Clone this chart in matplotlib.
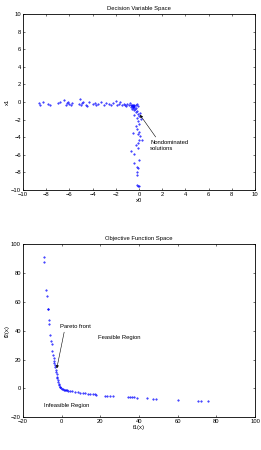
import matplotlib
matplotlib.use('Agg')
import matplotlib.pyplot as plt

plt.rcParams['font.family'] = ['Liberation Sans', 'DejaVu Sans']

# decision variable space points
x0 = [-8.6, -8.5, -8.3, -7.8, -7.7, -7.0, -6.8, -6.5, -6.3, -6.2, -6.1, -6.0, -5.9, -5.8,
      -5.2, -5.1, -5.0, -4.9, -4.8, -4.6, -4.5, -4.3, -4.0, -3.8, -3.7, -3.5, -3.3, -3.0,
      -2.8, -2.6, -2.4, -2.2, -2.0, -1.9, -1.7, -1.6, -1.5, -1.3, -1.2, -1.1, -1.0, -0.9,
      -0.8, -0.7, -0.7, -0.6, -0.6, -0.5, -0.5, -0.4, -0.4, -0.3, -0.3, -0.2, -0.2, -0.1,
      -0.3, -0.1, 0.0, -0.2, 0.1, -0.4, 0.2, -0.1, 0.0, -0.3, -0.2, 0.0, -0.1, 0.1, -0.5,
      0.0, -0.1, 0.3, -0.3, -0.1, -0.7, -0.4, 0.0, -0.4, -0.2, -0.1, -0.2, -0.2, -0.2, -0.1, 0.0,
      -0.6, -0.5, -0.4, -0.45, -0.55, -0.35]
x1 = [-0.1, -0.3, 0.0, -0.2, -0.4, -0.1, 0.0, 0.2, -0.3, -0.1, 0.0, -0.2, -0.3, -0.1,
      -0.2, 0.3, -0.4, -0.1, 0.0, -0.3, -0.5, 0.0, -0.2, -0.1, -0.3, -0.2, 0.0, -0.3,
      -0.1, -0.2, -0.4, -0.1, 0.1, -0.3, -0.2, 0.0, -0.4, -0.2, -0.3, -0.5, -0.2, -0.4,
      -0.1, -0.3, -0.6, -0.4, -0.8, -0.5, -0.3, -0.6, -0.9, -0.4, -0.7, -0.2, -1.0, -0.5,
      -1.2, -1.4, -1.6, -1.8, -1.3, -1.5, -1.9, -2.2, -2.5, -2.7, -3.1, -3.4, -3.6, -3.9, -3.5,
      -4.3, -4.7, -4.3, -4.9, -5.2, -5.6, -5.9, -6.6, -6.9, -7.4, -7.5, -8.0, -8.3, -9.4, -9.5, -9.5,
      -0.5, -0.7, -0.5, -0.35, -0.6, -0.8]

# objective function space points
f1 = [-9.2, -9.2, -8.0, -7.6, -7.3, -7.2, -6.6, -6.4, -5.9, -5.6, -5.05, -4.9, -4.5, -4.2,
      -3.9, -3.7, -3.5, -3.3, -3.0, -2.8, -2.6, -2.5, -2.3, -2.1, -1.9, -1.6, -1.4, -1.1,
      -0.8, -0.4, 0.0, 0.5, 1.0, 1.6, 2.2, 2.7, 3.5, 4.4, 5.5, 7.0, 8.3, 9.5, 11.0, 12.1,
      13.5, 14.7, 16.0, 17.3, 18.0, 22.4, 23.5, 25.0, 26.7, 34.5, 35.5, 36.2, 37.5, 38.8,
      43.9, 47.4, 49.0, 60.2, 70.5, 72.3, 75.7]
f2 = [91.2, 87.8, 68.6, 64.0, 55.4, 54.8, 47.3, 44.6, 37.0, 32.8, 30.5, 26.0, 23.0, 20.8,
      19.2, 17.8, 16.0, 14.5, 13.0, 11.5, 10.0, 8.0, 7.0, 5.8, 4.3, 2.8, 2.0, 1.2,
      0.6, 0.0, -0.4, -0.7, -0.9, -1.1, -1.3, -1.4, -1.5, -1.6, -1.9, -2.3, -2.6, -3.0, -3.2, -3.5,
      -3.7, -3.9, -4.1, -4.2, -4.3, -5.1, -5.2, -5.3, -5.5, -6.0, -6.1, -6.2, -6.3, -6.5,
      -6.9, -7.2, -7.2, -7.9, -8.5, -8.5, -8.8]

fs = 4.2

fig = plt.figure(figsize=(2.61, 4.5), dpi=100)
ax1 = fig.add_axes([0.088, 0.578, 0.889, 0.391])
ax2 = fig.add_axes([0.088, 0.073, 0.889, 0.384])

for ax in (ax1, ax2):
    ax.tick_params(direction='in', length=1.5, width=0.4, labelsize=fs, pad=1.5,
                   top=True, right=True)
    for s in ax.spines.values():
        s.set_linewidth(0.6)

ax1.plot(x0, x1, '.', color='blue', markersize=0.9)
ax1.set_xlim(-10, 10)
ax1.set_ylim(-10, 10)
ax1.set_xticks(range(-10, 11, 2))
ax1.set_yticks(range(-10, 11, 2))
ax1.set_title('Decision Variable Space', fontsize=fs, pad=3)
ax1.set_xlabel('x0', fontsize=fs, labelpad=0.5)
ax1.set_ylabel('x1', fontsize=fs, labelpad=0.5)
ax1.annotate('Nondominated\nsolutions', xy=(0.09, -1.47), xytext=(0.95, -4.3),
             fontsize=fs, va='top', ha='left',
             arrowprops=dict(arrowstyle='-|>', color='black', lw=0.4,
                             mutation_scale=4, shrinkA=0, shrinkB=0,
                             relpos=(0.2, 1.0)))

ax2.plot(f1, f2, '.', color='blue', markersize=0.9)
ax2.set_xlim(-20, 100)
ax2.set_ylim(-20, 100)
ax2.set_xticks(range(-20, 101, 20))
ax2.set_yticks(range(-20, 101, 20))
ax2.set_title('Objective Function Space', fontsize=fs, pad=3)
ax2.set_xlabel('f1(x)', fontsize=fs, labelpad=0.5)
ax2.set_ylabel('f2(x)', fontsize=fs, labelpad=0.5)
ax2.annotate('Pareto front', xy=(-2.5, 13.9), xytext=(-0.8, 42.7),
             fontsize=fs, va='center', ha='left',
             arrowprops=dict(arrowstyle='-|>', color='black', lw=0.4,
                             mutation_scale=4, shrinkA=0, shrinkB=0,
                             relpos=(0.15, 0.0)))
ax2.text(18.7, 35.1, 'Feasible Region', fontsize=fs, va='center', ha='left')
ax2.text(-9.3, -12.2, 'Infeasible Region', fontsize=fs, va='center', ha='left')

fig.savefig('out.png', dpi=100)
